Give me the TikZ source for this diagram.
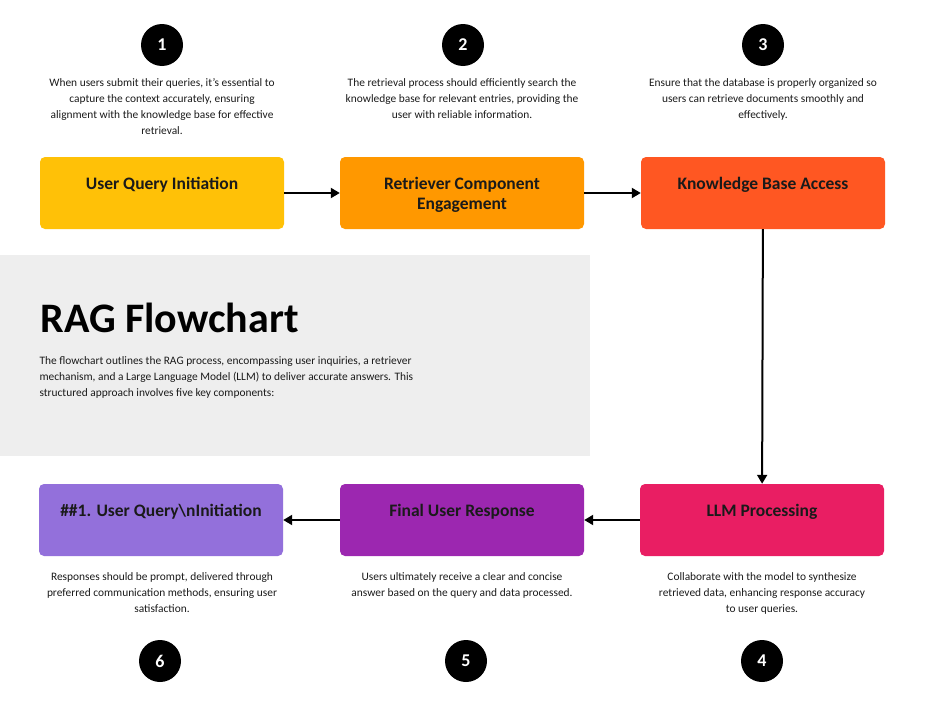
\documentclass[tikz,border=0pt]{standalone}
\usepackage{fontspec}
\setmainfont{Carlito}
\usetikzlibrary{arrows.meta}

\definecolor{amber}{HTML}{FFC107}
\definecolor{orange}{HTML}{FF9800}
\definecolor{deeporange}{HTML}{FF5722}
\definecolor{rose}{HTML}{E91E63}
\definecolor{violet}{HTML}{9C27B0}
\definecolor{lavender}{HTML}{9370DB}
\definecolor{panel}{HTML}{EEEEEE}
\definecolor{ink}{HTML}{1A1A1A}

\tikzset{
  stage/.style={draw=none, fill=#1, rounded corners=5pt, minimum width=244pt,
    minimum height=72pt, inner sep=0pt},
  stagetext/.style={anchor=north, font=\fontsize{17.5}{20}\selectfont\bfseries,
    align=center, text=ink},
  badge/.style={circle, fill=black, minimum size=42pt, inner sep=0pt,
    font=\fontsize{18}{18}\selectfont\bfseries, text=white},
  note/.style={anchor=north, align=center,
    font=\fontsize{11.4}{16}\selectfont, text=ink},
  flow/.style={line width=2pt, -{Triangle[length=9pt,width=10pt]}}
}

\begin{document}
\begin{tikzpicture}[x=1pt,y=-1pt]
    \useasboundingbox (0,0) rectangle (926,712);
    % title panel
    \fill[panel] (0,255) rectangle (590,456);
    \node[anchor=base west, font=\fontsize{42}{42}\selectfont\bfseries, text=black]
      (title) at (37,332) {RAG Flowchart};
    \node[anchor=north west, align=left,
      font=\fontsize{11.4}{16}\selectfont, text=ink] (intro) at (36,353)
      {The flowchart outlines the RAG process, encompassing user inquiries, a retriever\\
       mechanism, and a Large Language Model (LLM) to deliver accurate answers. This\\
       structured approach involves five key components:};
    % stages
    \node[stage=amber] (query) at (162,193) {};
    \node[stage=orange] (retriever) at (462,193) {};
    \node[stage=deeporange] (kbase) at (763,193) {};
    \node[stage=rose] (llm) at (762,520) {};
    \node[stage=violet] (final) at (462,520) {};
    \node[stage=lavender] (again) at (161,520) {};
    \node[stagetext] at ([yshift=-17pt]query.north) {User Query Initiation};
    \node[stagetext] at ([yshift=-17pt]retriever.north) {Retriever Component\\Engagement};
    \node[stagetext] at ([yshift=-17pt]kbase.north) {Knowledge Base Access};
    \node[stagetext] at ([yshift=-17pt]llm.north) {LLM Processing};
    \node[stagetext] at ([yshift=-17pt]final.north) {Final User Response};
    \node[stagetext] at ([yshift=-17pt]again.north) {\#\#1. User Query\textbackslash nInitiation};
    % badges
    \node[badge] (b1) at (162,45) {1};
    \node[badge] (b2) at (463,45) {2};
    \node[badge] (b3) at (763,45) {3};
    \node[badge] (b4) at (762,661) {4};
    \node[badge] (b5) at (466,661) {5};
    \node[badge] (b6) at (160,661) {6};
    % notes
    \node[note] (n1) at (162,75) {When users submit their queries, it's essential to\\
      capture the context accurately, ensuring\\alignment with the knowledge base for
      effective\\retrieval.};
    \node[note] (n2) at (462,75) {The retrieval process should efficiently search the\\
      knowledge base for relevant entries, providing the\\user with reliable information.};
    \node[note] (n3) at (763,75) {Ensure that the database is properly organized so\\
      users can retrieve documents smoothly and\\effectively.};
    \node[note] (n4) at (762,569) {Collaborate with the model to synthesize\\retrieved
      data, enhancing response accuracy\\to user queries.};
    \node[note] (n5) at (462,569) {Users ultimately receive a clear and concise\\answer
      based on the query and data processed.};
    \node[note] (n6) at (162,569) {Responses should be prompt, delivered through\\
      preferred communication methods, ensuring user\\satisfaction.};
    % connectors
    \draw[flow] (query) -- (retriever);
    \draw[flow] (retriever) -- (kbase);
    \draw[flow] (kbase) -- (llm);
    \draw[flow] (llm) -- (final);
    \draw[flow] (final) -- (again);
\end{tikzpicture}
\end{document}
